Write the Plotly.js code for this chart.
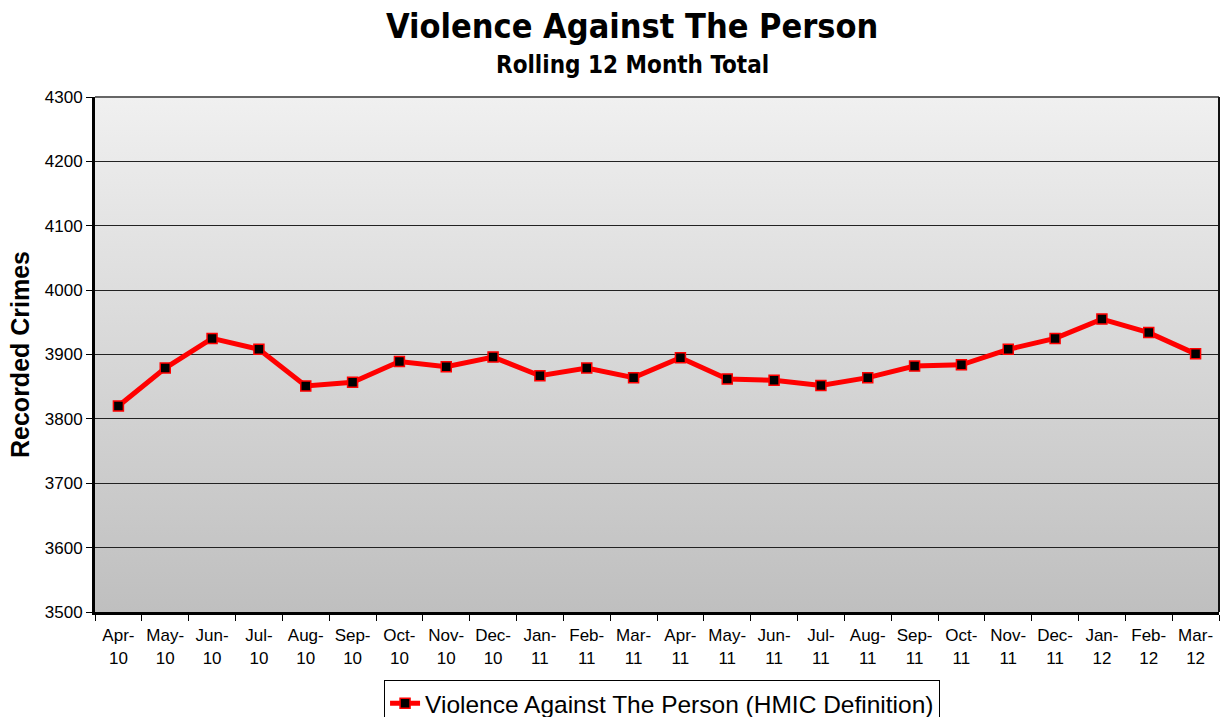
<!DOCTYPE html>
<html>
<head>
<meta charset="utf-8">
<script src="https://cdn.plot.ly/plotly-3.0.1.min.js"></script>
<style>html,body{margin:0;padding:0;background:#fff;}#chart{width:1221px;height:717px;}</style>
</head>
<body>
<div id="chart"></div>
<script>
const categories = ["Apr-10","May-10","Jun-10","Jul-10","Aug-10","Sep-10","Oct-10","Nov-10","Dec-10","Jan-11","Feb-11","Mar-11","Apr-11","May-11","Jun-11","Jul-11","Aug-11","Sep-11","Oct-11","Nov-11","Dec-11","Jan-12","Feb-12","Mar-12"];
const values = [3820,3879,3925,3908,3851,3857,3889,3881,3896,3867,3879,3864,3895,3862,3860,3852,3864,3882,3884,3908,3925,3955,3934,3901];
const tickLabels = categories.map(c => c.replace("-", "-<br>"));
const yTicks = [3500,3600,3700,3800,3900,4000,4100,4200,4300];
const titleText = "Violence Against The Person";
const subtitleText = "Rolling 12 Month Total";
const yTitleText = "Recorded Crimes";

const grad = 'data:image/svg+xml;utf8,' + encodeURIComponent(
 '<svg xmlns="http://www.w3.org/2000/svg" width="100" height="100" preserveAspectRatio="none">' +
 '<defs><linearGradient id="g" x1="0" y1="0" x2="0" y2="1"><stop offset="0" stop-color="#f0f0f0"/><stop offset="1" stop-color="#bfbfbf"/></linearGradient></defs>' +
 '<rect width="100" height="100" fill="url(#g)"/></svg>');

const trace = {
  x: categories, y: values, type: 'scatter', mode: 'lines+markers',
  name: 'Violence Against The Person (HMIC Definition)',
  line: {color: '#ff0000', width: 5},
  marker: {symbol: 'square', size: 10, color: '#000000', line: {color: '#ff0000', width: 1.5}}
};

const titleFont = 'DejaVu Sans Condensed, DejaVu Sans, sans-serif';
const layout = {
  width: 1221, height: 717,
  margin: {l: 95, r: 2, t: 97, b: 105},
  paper_bgcolor: '#ffffff',
  plot_bgcolor: 'rgba(0,0,0,0)',
  font: {family: 'Arial, Liberation Sans, sans-serif', color: '#000'},
  xaxis: {
    type: 'category', range: [-0.5, 23.5],
    tickmode: 'array', tickvals: categories, ticktext: tickLabels,
    tickson: 'boundaries', ticks: 'outside', ticklen: 6, tickwidth: 1, tickcolor: '#000',
    ticklabelstandoff: 6,
    showline: true, linecolor: '#000', linewidth: 3,
    showgrid: false, zeroline: false,
    tickfont: {size: 17, family: 'Arial, Liberation Sans, sans-serif'}
  },
  yaxis: {
    range: [3500, 4300], tickmode: 'array', tickvals: yTicks,
    ticks: 'outside', ticklen: 6, tickwidth: 1, tickcolor: '#000',
    showline: true, linecolor: '#000', linewidth: 3,
    showgrid: true, gridcolor: '#222', gridwidth: 1, zeroline: false,
    tickfont: {size: 17, family: 'Arial, Liberation Sans, sans-serif'},
    title: {text: '<b>' + yTitleText + '</b>', font: {size: 25, family: 'Arial, Liberation Sans, sans-serif'}, standoff: 9}
  },
  showlegend: true,
  legend: {
    orientation: 'h', x: 0.5045, xanchor: 'center', yref: 'container', y: 0.052, yanchor: 'top',
    bordercolor: '#000', borderwidth: 1, bgcolor: '#fff',
    font: {size: 24.5, family: 'Arial, Liberation Sans, sans-serif'}
  },
  annotations: [
    {text: '<b>' + titleText + '</b>', xref: 'paper', yref: 'paper', x: 0.478, y: 1.137, xanchor: 'center', yanchor: 'middle', showarrow: false, font: {family: titleFont, size: 34, color: '#000'}},
    {text: '<b>' + subtitleText + '</b>', xref: 'paper', yref: 'paper', x: 0.478, y: 1.062, xanchor: 'center', yanchor: 'middle', showarrow: false, font: {family: titleFont, size: 24, color: '#000'}}
  ],
  images: [{source: grad, xref: 'paper', yref: 'paper', x: 0, y: 1, sizex: 1, sizey: 1, sizing: 'stretch', layer: 'below', xanchor: 'left', yanchor: 'top'}],
  shapes: [
    {type: 'line', xref: 'paper', yref: 'paper', x0: 0, x1: 1, y0: 1, y1: 1, line: {color: '#666', width: 2}},
    {type: 'line', xref: 'paper', yref: 'paper', x0: 1, x1: 1, y0: 0, y1: 1, line: {color: '#111', width: 2}}
  ]
};

Plotly.newPlot('chart', [trace], layout, {displayModeBar: false, staticPlot: true});
</script>
</body>
</html>
